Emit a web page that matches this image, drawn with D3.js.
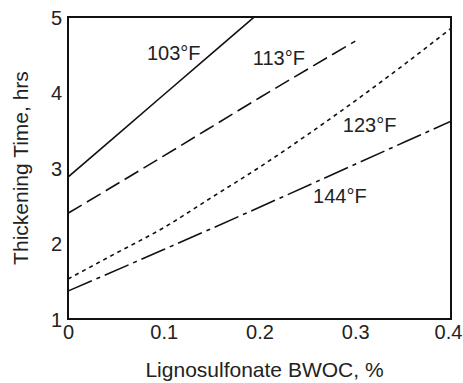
<!DOCTYPE html>
<html>
<head>
<meta charset="utf-8">
<script src="https://cdnjs.cloudflare.com/ajax/libs/d3/7.8.5/d3.min.js"></script>
<style>
  body { margin: 0; background: #fff; }
  text { font-family: "Liberation Sans", Arial, sans-serif; fill: #222; }
</style>
</head>
<body>
<div id="chart"></div>
<script>
// additive BWOC, %
const xTicks = [0, 0.1, 0.2, 0.3, 0.4];
const yTicks = [1, 2, 3, 4, 5];

// thickening time (hrs)
const x103 = [0, 0.1, 0.2];
const y103 = [2.88, 3.97, 5.06];
const x113 = [0, 0.1, 0.2, 0.3];
const y113 = [2.40, 3.16, 3.93, 4.68];
const x123 = [0, 0.05, 0.1, 0.15, 0.2, 0.25, 0.3, 0.35, 0.4];
const y123 = [1.53, 1.87, 2.21, 2.61, 3.01, 3.44, 3.89, 4.36, 4.85];
const x144 = [0, 0.1, 0.2, 0.3, 0.4];
const y144 = [1.37, 1.92, 2.48, 3.05, 3.62];

const seriesNames = ["103°F", "113°F", "123°F", "144°F"];
// where each temperature label sits, in data units
const labelX = [0.0825, 0.193, 0.287, 0.256];
const labelY = [4.43, 4.36, 3.48, 2.54];

const width = 463, height = 383;
const margin = {top: 17, right: 12, bottom: 64, left: 68};

const svg = d3.select("#chart").append("svg")
    .attr("width", width)
    .attr("height", height);

const x = d3.scaleLinear().domain([0, 0.4]).range([margin.left, width - margin.right]);
const y = d3.scaleLinear().domain([1, 5]).range([height - margin.bottom, margin.top]);

svg.append("defs").append("clipPath")
    .attr("id", "plot")
    .append("rect")
    .attr("x", x(0))
    .attr("y", y(5))
    .attr("width", x(0.4) - x(0))
    .attr("height", y(1) - y(5));

// axes, no tick marks, just the numbers
const xAxis = svg.append("g")
    .attr("transform", "translate(0," + y(1) + ")")
    .call(d3.axisBottom(x).tickValues(xTicks).tickSize(0).tickPadding(6)
        .tickFormat(d => d === 0 ? "0" : d3.format(".1f")(d)));
const yAxis = svg.append("g")
    .attr("transform", "translate(" + x(0) + ",0)")
    .call(d3.axisLeft(y).tickValues(yTicks).tickSize(0).tickPadding(6)
        .tickFormat(d3.format("d")));
[xAxis, yAxis].forEach(g => {
    g.select(".domain").remove();
    g.selectAll("text")
        .style("font-size", "20px")
        .style("font-family", "Liberation Sans, Arial, sans-serif")
        .attr("fill", "#222");
});
yAxis.selectAll("text").attr("dy", "0.36em");
// last x label sits on the page edge, pull it in a little
xAxis.selectAll(".tick").filter(d => d === 0.4).select("text").attr("dx", -3);

const series = [
    {xs: x103, ys: y103, dash: null},
    {xs: x113, ys: y113, dash: "16,6"},
    {xs: x123, ys: y123, dash: "4,4"},
    {xs: x144, ys: y144, dash: "26,5,4,5"}
];

const line = d3.line()
    .x(d => x(d[0]))
    .y(d => y(d[1]))
    .curve(d3.curveMonotoneX);

const plot = svg.append("g").attr("clip-path", "url(#plot)");
plot.selectAll("path")
    .data(series)
    .enter()
    .append("path")
    .attr("d", s => line(s.xs.map((v, i) => [v, s.ys[i]])))
    .attr("fill", "none")
    .attr("stroke", "#111")
    .attr("stroke-width", 1.6)
    .attr("stroke-dasharray", s => s.dash);

// frame
svg.append("rect")
    .attr("x", x(0))
    .attr("y", y(5))
    .attr("width", x(0.4) - x(0))
    .attr("height", y(1) - y(5))
    .attr("fill", "none")
    .attr("stroke", "#111")
    .attr("stroke-width", 2);

svg.selectAll(".lbl")
    .data(seriesNames)
    .enter()
    .append("text")
    .attr("class", "lbl")
    .attr("x", (d, i) => x(labelX[i]))
    .attr("y", (d, i) => y(labelY[i]))
    .style("font-size", "20px")
    .text(d => d);

svg.append("text")
    .attr("x", (x(0) + x(0.4)) / 2 + 5)
    .attr("y", 377)
    .attr("text-anchor", "middle")
    .style("font-size", "21px")
    .text("Lignosulfonate BWOC, %");

svg.append("text")
    .attr("transform", "translate(28," + (y(1) + y(5)) / 2 + ") rotate(-90)")
    .attr("text-anchor", "middle")
    .style("font-size", "21px")
    .text("Thickening Time, hrs");
</script>
</body>
</html>
